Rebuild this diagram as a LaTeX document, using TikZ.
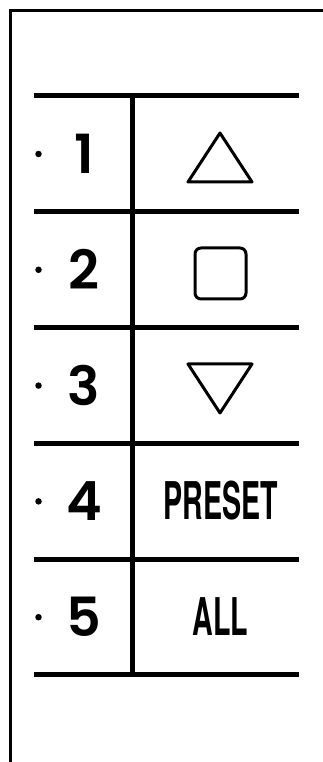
\documentclass[tikz,border=0pt]{standalone}
\usepackage{fontspec}
\usepackage{graphicx}
\usepackage{tikz}
\usetikzlibrary{positioning,calc}
\newfontfamily\keyfont{Poppins SemiBold}
\newfontfamily\capfont{TeX Gyre Heros}

\begin{document}
\begin{tikzpicture}[
    x=1pt, y=1pt,
    frame/.style = {draw, line width=3pt},
    rule/.style  = {draw, line width=5pt},
    divd/.style  = {draw, line width=4.5pt},
    glyph/.style = {draw, line width=3pt, line join=round, line cap=round},
    keynum/.style= {font=\keyfont\fontsize{54}{54}\selectfont, inner sep=0pt},
    keycap/.style= {font=\capfont\fontsize{52}{52}\selectfont\bfseries, inner sep=0pt},
    bullet/.style= {circle, fill, minimum size=6.5pt, inner sep=0pt},
]
\useasboundingbox (0,0) rectangle (323,762);

% ============ panel frame ============
\draw[frame] (10.5,0) -- (10.5,751.5) -- (323,751.5);

% ============ row rules ============
\foreach \i in {0,...,5} {
  \draw[rule] (34,{666-115.8*\i}) -- (299,{666-115.8*\i});
}
\coordinate (dtop) at (132.5,666);
\coordinate (dbot) at (132.5,87);
\draw[divd] (dtop) -- (dbot);

% ============ key numbers ============
\foreach \i [count=\n] in {0,...,4} {
  \node[bullet] (b\n) at (38.5,{608-115.8*\i}) {};
  \node[keynum] (k\n) at (84,{608-115.8*\i}) {\n};
}

% ============ key functions ============
\coordinate (f1) at (220,608);
\draw[glyph] ($(f1)+(-32,-28)$) -- ($(f1)+(32,-28)$) -- ($(f1)+(0,21)$) -- cycle;
\coordinate (f2) at (220.5,488.5);
\draw[glyph, rounded corners=6pt] ($(f2)+(-25.5,-25.5)$) rectangle ($(f2)+(25.5,25.5)$);
\coordinate (f3) at (220,377);
\draw[glyph] ($(f3)+(-32,21)$) -- ($(f3)+(32,21)$) -- ($(f3)+(0,-28)$) -- cycle;
\node[keycap] (f4) at (221,261) {\scalebox{0.55}[1]{PRESET}};
\node[keycap] (f5) at (220.5,145) {\scalebox{0.55}[1]{ALL}};

\end{tikzpicture}
\end{document}
